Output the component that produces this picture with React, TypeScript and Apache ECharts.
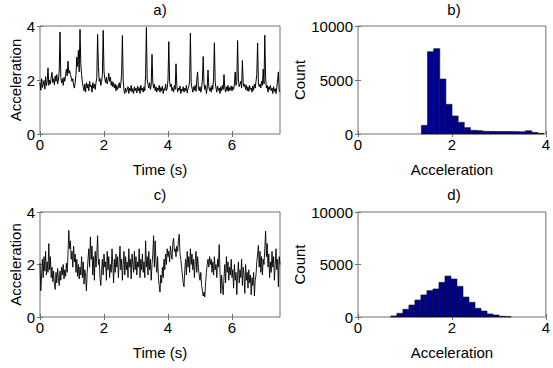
import React, { useEffect, useRef } from "react";
import * as echarts from "echarts";

// ---- data ----
const SAMPLE_STEP = 0.025; // seconds between samples
const accelA = [
  1.9, 1.62, 2.05, 1.72, 1.84, 1.98, 1.66, 2.12, 1.78, 1.95,
  2.45, 1.8, 2.0, 1.85, 2.1, 2.28, 1.9, 2.05, 1.82, 2.15,
  1.95, 2.2, 1.85, 2.0, 2.3, 3.78, 2.1, 1.9, 2.05, 1.8,
  2.1, 1.95, 2.2, 2.4, 2.15, 2.7, 2.25, 2.35, 2.2, 2.1,
  1.95, 2.05, 1.8, 1.7, 1.9, 2.2, 2.85, 2.5, 3.1, 2.3,
  3.87, 2.6, 2.2, 1.9, 1.75, 1.6, 1.85, 1.55, 1.9, 1.7,
  1.85, 1.6, 1.95, 1.75, 1.8, 1.55, 1.9, 1.7, 1.85, 1.65,
  1.9, 2.1, 3.69, 2.5, 1.95, 2.05, 1.8, 1.95, 2.2, 3.84,
  2.3, 2.05, 1.9, 2.1, 1.85, 2.0, 2.25, 1.95, 2.1, 1.8,
  1.95, 1.75, 1.9, 1.7, 1.85, 1.6, 1.8, 1.65, 1.75, 1.9,
  1.7, 1.85, 2.2, 3.65, 2.0, 1.6, 1.5, 1.7, 1.55, 1.65,
  1.75, 1.5, 1.7, 1.6, 1.8, 1.55, 1.68, 1.5, 1.75, 1.6,
  1.7, 1.52, 1.78, 1.6, 1.72, 1.5, 1.8, 1.62, 1.7, 1.55,
  1.75, 1.6, 2.2, 3.95, 2.0, 1.85, 1.7, 1.9, 1.65, 1.8,
  2.95, 1.9, 1.7, 1.85, 1.6, 1.75, 1.55, 1.7, 1.62, 1.8,
  1.55, 1.72, 1.6, 1.78, 1.5, 1.68, 1.62, 1.85, 1.6, 1.7,
  2.0, 3.42, 1.95, 1.75, 1.85, 1.6, 1.72, 1.55, 1.8, 1.65,
  2.6, 1.8, 1.55, 1.7, 1.62, 1.78, 1.5, 1.66, 1.6, 1.75,
  1.55, 1.7, 1.6, 1.8, 1.52, 1.68, 1.75, 1.95, 3.73, 1.9,
  1.7, 1.55, 1.75, 1.62, 1.8, 1.58, 2.0, 2.3, 1.7, 1.6,
  1.75, 1.55, 1.7, 2.0, 2.87, 1.85, 1.65, 1.8, 1.5, 1.7,
  2.37, 1.75, 1.6, 1.72, 1.55, 1.8, 1.65, 2.1, 3.38, 1.9,
  1.7, 1.55, 1.78, 1.62, 1.7, 1.5, 1.75, 1.6, 1.8, 1.65,
  2.2, 1.7, 1.55, 1.75, 1.6, 1.8, 1.58, 1.72, 1.62, 1.78,
  1.6, 1.75, 1.65, 1.85, 2.3, 1.8, 1.95, 3.46, 2.0, 1.75,
  1.85, 1.95, 1.7, 2.72, 1.9, 1.75, 1.85, 1.65, 1.8, 1.6,
  1.75, 1.58, 1.8, 1.65, 1.7, 1.55, 1.78, 1.62, 1.85, 1.7,
  1.95, 2.2, 3.37, 1.9, 1.75, 1.85, 1.7, 1.95, 1.8, 2.4,
  1.85, 3.66, 2.1, 1.7, 1.8, 1.55, 1.75, 1.65, 1.8, 1.6,
  1.7, 1.5, 1.75, 1.58, 1.68, 1.5, 1.72, 2.0, 2.3, 1.6, 1.55,
];
const accelC = [
  2.05, 1.0, 1.6, 2.2, 1.5, 2.3, 1.75, 2.5, 1.6, 2.1,
  1.7, 2.8, 1.8, 2.3, 1.5, 1.9, 1.35, 1.75, 1.25, 1.05,
  1.7, 1.3, 1.85, 1.5, 1.2, 1.75, 1.4, 1.9, 1.6, 2.0,
  1.45, 1.8, 1.55, 2.05, 1.7, 2.4, 3.3, 2.6, 2.9, 2.2,
  2.5, 1.9, 2.7, 2.1, 2.4, 1.7, 2.2, 1.55, 2.0, 1.45,
  1.9, 1.6, 2.3, 1.5, 2.1, 1.25, 1.8, 1.6, 1.0, 1.7,
  2.2, 2.6, 1.9, 3.05, 2.2, 2.7, 1.6, 2.3, 1.4, 2.5,
  1.9, 2.4, 3.1, 2.0, 2.2, 1.5, 1.2, 1.8, 2.2, 1.6,
  2.4, 1.9, 2.1, 1.4, 2.5, 1.8, 2.3, 1.5, 2.0, 1.7,
  2.6, 2.0, 1.3, 2.2, 1.7, 2.4, 1.9, 2.3, 1.5, 2.1,
  2.7, 1.8, 2.2, 1.4, 2.0, 2.5, 1.6, 2.3, 1.8, 2.1,
  1.5, 2.6, 1.9, 2.2, 1.45, 2.4, 2.0, 1.7, 2.5, 1.8,
  2.3, 1.6, 2.1, 1.9, 2.6, 1.5, 2.2, 1.8, 2.4, 1.7,
  2.1, 1.5, 2.9, 1.9, 2.3, 1.6, 2.5, 1.8, 2.2, 1.4,
  2.0, 2.4, 3.1, 1.9, 2.9, 2.1, 1.7, 2.3, 1.5, 1.2,
  0.95, 1.6, 1.3, 1.9, 1.5, 2.2, 1.8, 2.4, 2.0, 2.6,
  2.3, 2.5, 2.1, 2.7, 2.4, 2.2, 2.8, 3.0, 2.5, 2.6,
  2.3, 2.7, 2.5, 2.9, 3.15, 2.4, 2.2, 1.9, 1.6, 1.3,
  1.15, 1.8, 2.2, 1.6, 2.5, 1.9, 2.3, 1.7, 2.6, 2.0,
  2.4, 1.8, 2.2, 1.5, 2.1, 2.5, 1.7, 2.3, 1.9, 1.6,
  1.4, 1.7, 1.2, 1.0, 0.8, 0.95, 0.76, 1.3, 1.7, 2.0,
  2.2, 1.9, 2.3, 2.0, 2.2, 1.7, 2.1, 1.6, 2.3, 1.8,
  2.0, 1.5, 2.2, 1.9, 2.76, 1.7, 0.9, 1.6, 1.2, 0.85,
  1.5, 2.0, 1.3, 2.3, 1.7, 2.1, 1.4, 1.9, 1.6, 2.2,
  1.5, 1.8, 1.1, 2.0, 1.4, 1.7, 0.85, 1.6, 2.1, 1.3,
  1.8, 1.5, 2.2, 1.2, 1.9, 1.6, 0.9, 2.0, 1.4, 1.7,
  1.1, 1.8, 1.3, 1.6, 0.85, 1.5, 1.2, 1.7, 0.8, 1.4,
  1.6, 2.1, 2.4, 2.73, 1.9, 2.5, 1.7, 2.3, 1.6, 2.2,
  2.0, 2.6, 3.27, 2.3, 2.8, 1.9, 2.4, 1.5, 2.1, 1.7,
  2.5, 1.9, 2.3, 1.4, 2.0, 2.6, 1.8, 2.2, 1.15, 2.3, 2.0,
];
const BIN_START_B = 1.35;
const BIN_WIDTH_B = 0.1305;
const countsB = [800, 7620, 7900, 5090, 2750, 1670, 1080, 590, 340, 310, 250, 240, 230, 230, 230, 220, 210, 300, 150, 60];
const BIN_START_D = 0.7;
const BIN_WIDTH_D = 0.128;
const countsD = [100, 350, 730, 1140, 1620, 2100, 2510, 2670, 3300, 3900, 3620, 2920, 1900, 1400, 830, 570, 290, 190, 70, 30];
const timeTicks = [0, 2, 4, 6];
const accelTicks = [0, 2, 4];
const histTicks = [0, 2, 4];
const countTicks = [0, 5000, 10000];
const panelTitles = ["a)", "b)", "c)", "d)"];

const FONT = "Liberation Sans, Arial, sans-serif";
const AXIS = "#707070";

const grids = [
  { left: 40, top: 26, width: 240, height: 108 },
  { left: 358, top: 26, width: 192, height: 108 },
  { left: 40, top: 212, width: 240, height: 105 },
  { left: 358, top: 212, width: 192, height: 105 },
];

const plainNum = (v: number) => String(v);

function xPair(gi: number, max: number, ticks: number[], name: string) {
  const tick = { show: true, inside: true, length: 3, lineStyle: { color: AXIS }, customValues: ticks };
  return [
    {
      type: "value", gridIndex: gi, min: 0, max, position: "bottom",
      axisLine: { show: false }, splitLine: { show: false }, axisTick: tick,
      axisLabel: { customValues: ticks, formatter: plainNum, margin: 3, fontSize: 15, color: "#000", fontFamily: FONT },
      name, nameLocation: "middle", nameGap: 28,
      nameTextStyle: { fontSize: 15, color: "#000", fontFamily: FONT },
    },
    {
      type: "value", gridIndex: gi, min: 0, max, position: "top",
      axisLine: { show: false }, splitLine: { show: false }, axisTick: tick,
      axisLabel: { show: false },
    },
  ];
}

function yPair(gi: number, max: number, ticks: number[], name: string, nameGap: number) {
  const tick = { show: true, inside: true, length: 3, lineStyle: { color: AXIS }, customValues: ticks };
  return [
    {
      type: "value", gridIndex: gi, min: 0, max, position: "left",
      axisLine: { show: false }, splitLine: { show: false }, axisTick: tick,
      axisLabel: { customValues: ticks, formatter: plainNum, margin: 5, fontSize: 15, color: "#000", fontFamily: FONT },
      name, nameLocation: "middle", nameGap,
      nameTextStyle: { fontSize: 15, color: "#000", fontFamily: FONT },
    },
    {
      type: "value", gridIndex: gi, min: 0, max, position: "right",
      axisLine: { show: false }, splitLine: { show: false }, axisTick: tick,
      axisLabel: { show: false },
    },
  ];
}

function toPairs(vals: number[]) {
  return vals.map((v, i) => [i * SAMPLE_STEP, v]);
}

function toBins(counts: number[], start: number, width: number) {
  return counts.map((c, i) => [start + i * width, start + (i + 1) * width, c]);
}

function histSeries(xi: number, data: number[][]) {
  return {
    type: "custom",
    xAxisIndex: xi,
    yAxisIndex: xi,
    data,
    encode: { x: [0, 1], y: 2 },
    renderItem: (params: any, api: any) => {
      const p0 = api.coord([api.value(0), api.value(2)]);
      const p1 = api.coord([api.value(1), 0]);
      return {
        type: "rect",
        shape: { x: p0[0], y: p0[1], width: p1[0] - p0[0], height: p1[1] - p0[1] },
        style: { fill: "#00008f", stroke: "#101010", lineWidth: 0.6 },
      };
    },
  };
}

export default function App() {
  const ref = useRef<HTMLDivElement>(null);
  useEffect(() => {
    if (!ref.current) return;
    const chart = echarts.init(ref.current, null, { renderer: "svg" });
    const titlePos = [
      [160, 2], [454, 2], [160, 187], [454, 187],
    ];
    chart.setOption({
      animation: false,
      backgroundColor: "#fff",
      grid: grids.map((g) => ({ ...g, show: true, borderColor: AXIS, borderWidth: 1, backgroundColor: "transparent" })),
      xAxis: [
        ...xPair(0, 7.5, timeTicks, "Time (s)"),
        ...xPair(1, 4, histTicks, "Acceleration"),
        ...xPair(2, 7.5, timeTicks, "Time (s)"),
        ...xPair(3, 4, histTicks, "Acceleration"),
      ],
      yAxis: [
        ...yPair(0, 4, accelTicks, "Acceleration", 16),
        ...yPair(1, 10000, countTicks, "Count", 48),
        ...yPair(2, 4, accelTicks, "Acceleration", 16),
        ...yPair(3, 10000, countTicks, "Count", 48),
      ],
      graphic: panelTitles.map((t, i) => ({
        type: "text",
        x: titlePos[i][0],
        y: titlePos[i][1],
        style: { text: t, fontSize: 15, fontFamily: FONT, fill: "#000", align: "center", verticalAlign: "top" },
      })),
      series: [
        {
          type: "line", xAxisIndex: 0, yAxisIndex: 0, data: toPairs(accelA),
          showSymbol: false, lineStyle: { color: "#000", width: 1 },
        },
        histSeries(2, toBins(countsB, BIN_START_B, BIN_WIDTH_B)),
        {
          type: "line", xAxisIndex: 4, yAxisIndex: 4, data: toPairs(accelC),
          showSymbol: false, lineStyle: { color: "#000", width: 0.9 },
        },
        histSeries(6, toBins(countsD, BIN_START_D, BIN_WIDTH_D)),
      ],
    });
    return () => chart.dispose();
  }, []);
  return (
    <div
      ref={ref}
      style={{ position: "fixed", left: 0, top: 0, width: 553, height: 368 }}
    />
  );
}
